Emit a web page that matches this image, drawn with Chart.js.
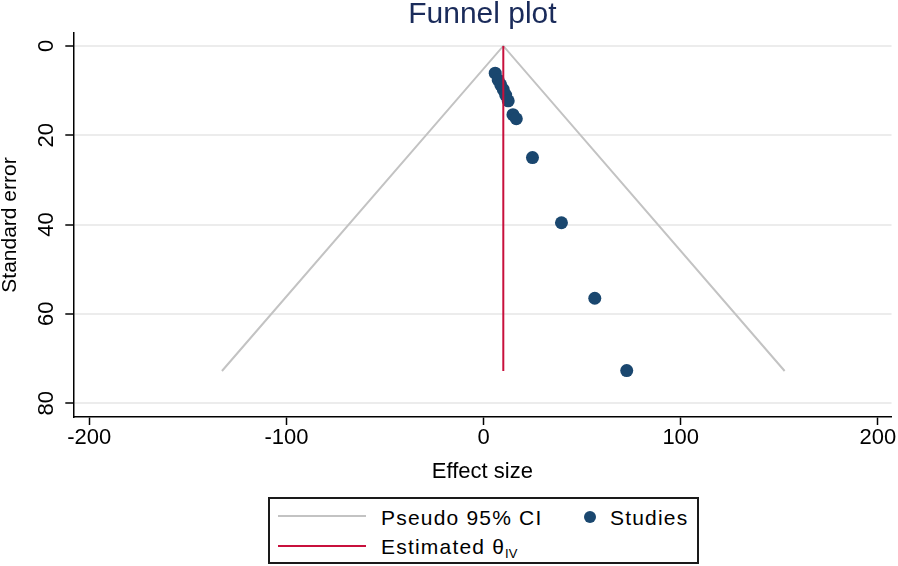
<!DOCTYPE html>
<html>
<head>
<meta charset="utf-8">
<script src="https://cdn.jsdelivr.net/npm/chart.js@4.4.0/dist/chart.umd.min.js"></script>
<style>
  html, body { margin: 0; padding: 0; background: #fff; }
  #wrap { position: relative; width: 898px; height: 566px; font-family: "Liberation Sans", Arial, sans-serif; }
  #chart { position: absolute; left: 0; top: 0; }
  #legend { position: absolute; left: 268px; top: 497px; width: 431px; height: 67px; box-sizing: border-box; border: 2px solid #1a1a1a; background: #fff; }
  #legend .ln { position: absolute; height: 2px; width: 88px; left: 8px; }
  #legend .tx { position: absolute; font-size: 21px; line-height: 21px; color: #000; white-space: nowrap; letter-spacing: 1.2px; }
  #legend .dot { position: absolute; width: 12px; height: 12px; border-radius: 50%; background: #1a476f; }
  #legend sub { font-size: 13px; line-height: 0; vertical-align: -4px; letter-spacing: 0; }
</style>
</head>
<body>
<div id="wrap">
  <canvas id="chart" width="898" height="566"></canvas>
  <div id="legend">
    <div class="ln" style="top:16px;background:#c3c3c3;"></div>
    <div class="tx" style="left:111px;top:8px;">Pseudo 95% CI</div>
    <div class="dot" style="left:314px;top:12px;"></div>
    <div class="tx" style="left:340px;top:8px;">Studies</div>
    <div class="ln" style="top:46px;background:#c8103c;"></div>
    <div class="tx" style="left:111px;top:37px;">Estimated θ<sub>IV</sub></div>
  </div>
</div>
<script>
// ---- data ----
const thetaX = [10.0, 10.0];
const thetaY = [0, 72.8];
const ciX = [-132.7, 10.0, 152.7];
const ciY = [72.8, 0, 72.8];
const studyEffect = [5.9, 7.4, 8.7, 10.0, 11.2, 12.5, 14.9, 16.6, 24.8, 39.5, 56.4, 72.6];
const studySE     = [6.1, 7.6, 8.7, 9.8, 11.0, 12.3, 15.4, 16.3, 25.0, 39.6, 56.5, 72.7];
const xTicks = [-200, -100, 0, 100, 200];
const yTicks = [0, 20, 40, 60, 80];

const FONT = '"Liberation Sans", Arial, sans-serif';
const pts = (xs, ys) => xs.map((x, i) => ({ x: x, y: ys[i] }));

const yLabelPlugin = {
  id: 'yLabels',
  afterDraw(chart) {
    const ctx = chart.ctx;
    const ys = chart.scales.y;
    ctx.save();
    ctx.fillStyle = '#000';
    ctx.textAlign = 'center';
    ctx.textBaseline = 'alphabetic';
    ctx.font = '22px ' + FONT;
    ys.ticks.forEach(t => {
      const py = ys.getPixelForValue(t.value);
      ctx.save();
      ctx.translate(53, py);
      ctx.rotate(-Math.PI / 2);
      ctx.fillText(String(t.value), 0, 0);
      ctx.restore();
    });
    ctx.font = '21px ' + FONT;
    const cy = (chart.chartArea.top + chart.chartArea.bottom) / 2;
    ctx.translate(16, cy);
    ctx.rotate(-Math.PI / 2);
    ctx.fillText('Standard error', 0, 0);
    ctx.restore();
  }
};

new Chart(document.getElementById('chart'), {
  type: 'scatter',
  data: {
    datasets: [
      {
        label: 'Estimated θIV',
        data: pts(thetaX, thetaY),
        showLine: true,
        borderColor: '#c8103c',
        borderWidth: 2,
        pointRadius: 0,
        fill: false
      },
      {
        label: 'Studies',
        data: pts(studyEffect, studySE),
        backgroundColor: '#1a476f',
        borderColor: '#1a476f',
        pointRadius: 6.5,
        pointBorderWidth: 0,
        pointHoverRadius: 6.5
      },
      {
        label: 'Pseudo 95% CI',
        data: pts(ciX, ciY),
        showLine: true,
        borderColor: '#c3c3c3',
        borderWidth: 2,
        pointRadius: 0,
        fill: false
      }
    ]
  },
  options: {
    responsive: false,
    animation: false,
    events: [],
    layout: { padding: 0 },
    plugins: {
      legend: { display: false },
      tooltip: { enabled: false },
      title: {
        display: true,
        text: 'Funnel plot',
        fullSize: false,
        color: '#1a2b5a',
        font: { family: FONT, size: 30, weight: 'normal', lineHeight: 1 },
        padding: { top: 0, bottom: 3 }
      }
    },
    scales: {
      x: {
        type: 'linear',
        min: -208.1,
        max: 206.9,
        afterBuildTicks: s => { s.ticks = xTicks.map(v => ({ value: v })); },
        afterFit: s => { s.height = 149; s.paddingLeft = 0; s.paddingRight = 0; },
        grid: { drawOnChartArea: false, drawTicks: true, tickLength: 8, tickColor: '#000', tickWidth: 1.5 },
        border: { display: true, color: '#000', width: 1.5 },
        ticks: { padding: 0, color: '#000', font: { family: FONT, size: 22 }, maxRotation: 0, autoSkip: false },
        title: { display: true, text: 'Effect size', color: '#000', font: { family: FONT, size: 22 }, padding: { top: 0, bottom: 81.3 } }
      },
      y: {
        type: 'linear',
        reverse: true,
        min: -2.9,
        max: 83.1,
        afterBuildTicks: s => { s.ticks = yTicks.map(v => ({ value: v })); },
        afterFit: s => { s.width = 73.3; s.paddingTop = 0; s.paddingBottom = 0; },
        ticks: { display: false },
        grid: { color: '#ececec', lineWidth: 2, drawTicks: true, tickLength: 8, tickColor: '#000', tickWidth: 1.5 },
        border: { display: true, color: '#000', width: 1.5 }
      }
    }
  },
  plugins: [yLabelPlugin]
});
</script>
</body>
</html>
